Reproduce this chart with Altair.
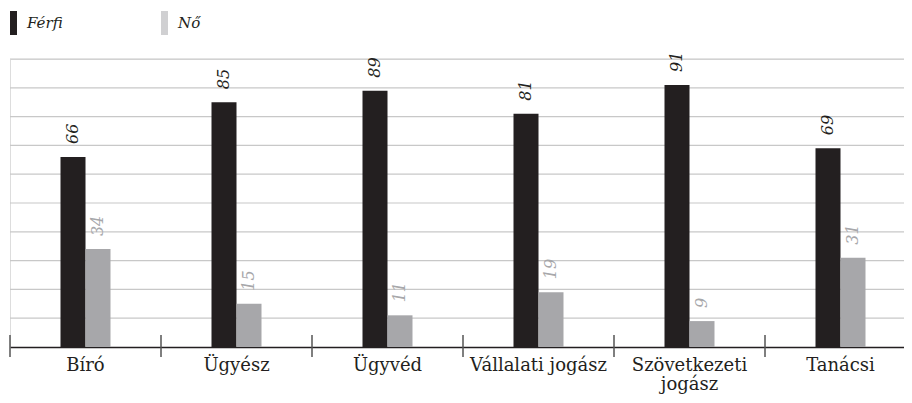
import altair as alt
import pandas as pd

categories = ["Bíró", "Ügyész", "Ügyvéd", "Vállalati jogász", "Szövetkezeti jogász", "Tanácsi"]
ferfi = [66, 85, 89, 81, 91, 69]
no = [34, 15, 11, 19, 9, 31]
series = ["Férfi", "Nő"]
grid_values = [10, 20, 30, 40, 50, 60, 70, 80, 90, 100]

rows = []
for c, f, n in zip(categories, ferfi, no):
    rows.append({"cat": c, "sex": "Férfi", "value": f})
    rows.append({"cat": c, "sex": "Nő", "value": n})
df = pd.DataFrame(rows)
legend_df = pd.DataFrame({"sex": series})
grid_df = pd.DataFrame({"g": grid_values})

W = 894
H = 288
FULL = 906
SERIF = "DejaVu Serif"

xscale = alt.Scale(domain=categories, paddingInner=0, paddingOuter=0, range=[0, FULL])
xoff = alt.Scale(domain=series, paddingInner=0, paddingOuter=0, range=[50.5, 100.5])
yscale = alt.Scale(domain=[0, 100])
bar_color = alt.Scale(domain=series, range=["#231f20", "#a7a7aa"])
text_color = alt.Scale(domain=series, range=["#231f20", "#9a9a9c"])

grid = alt.Chart(grid_df).mark_rule(color="#c8c8c8", strokeWidth=1.2).encode(
    y=alt.Y("g:Q", scale=yscale, axis=None),
    x=alt.value(0), x2=alt.value(FULL),
)

base = alt.Chart(df)

bars = base.mark_bar().encode(
    x=alt.X("cat:N", scale=xscale, sort=categories,
            axis=alt.Axis(title=None, ticks=False, labelAngle=0, labelFont=SERIF,
                          labelFontSize=18, labelColor="#231f20", labelPadding=9,
                          domainColor="#231f20", domainWidth=1.5, labelLineHeight=19,
                          labelExpr="datum.value == 'Szövetkezeti jogász' ? ['Szövetkezeti', 'jogász'] : datum.value")),
    xOffset=alt.XOffset("sex:N", scale=xoff, sort=series),
    y=alt.Y("value:Q", scale=yscale, axis=None),
    color=alt.Color("sex:N", scale=bar_color, legend=None),
)

labels = base.mark_text(angle=270, align="left", baseline="middle", dx=13,
                        font=SERIF, fontSize=16, fontStyle="italic").encode(
    x=alt.X("cat:N", scale=xscale, sort=categories),
    xOffset=alt.XOffset("sex:N", scale=xoff, sort=series),
    y=alt.Y("value:Q", scale=yscale, axis=None),
    text=alt.Text("value:Q"),
    color=alt.Color("sex:N", scale=text_color, legend=None),
)

ticks = alt.Chart(pd.DataFrame({"cat": categories})).mark_rule(
    color="#555555", strokeWidth=1.5).encode(
    x=alt.X("cat:N", scale=xscale, sort=categories, bandPosition=0),
    y=alt.value(H - 12),
    y2=alt.value(H + 10),
)

leg_black = alt.Chart(legend_df.iloc[[0]]).mark_rect(color="#231f20").encode(
    x=alt.value(0), x2=alt.value(7), y=alt.value(-48), y2=alt.value(-24))
leg_grey = alt.Chart(legend_df.iloc[[1]]).mark_rect(color="#d0d0d2").encode(
    x=alt.value(151), x2=alt.value(158), y=alt.value(-48), y2=alt.value(-24))
leg_t1 = alt.Chart(legend_df.iloc[[0]]).mark_text(
    align="left", baseline="alphabetic", font=SERIF, fontSize=15, fontStyle="italic",
    color="#231f20").encode(x=alt.value(17), y=alt.value(-31), text="sex:N")
leg_t2 = alt.Chart(legend_df.iloc[[1]]).mark_text(
    align="left", baseline="alphabetic", font=SERIF, fontSize=15, fontStyle="italic",
    color="#231f20").encode(x=alt.value(168), y=alt.value(-31), text="sex:N")

chart = alt.layer(grid, bars, labels, ticks, leg_black, leg_grey, leg_t1, leg_t2).properties(
    width=W, height=H,
    autosize=alt.AutoSizeParams(type="none"),
    padding={"left": 2, "top": 51, "right": 0, "bottom": 48},
).configure_view(stroke=None).configure(background="white")

chart.save("out.html", embed_options={"renderer": "svg", "actions": False})
